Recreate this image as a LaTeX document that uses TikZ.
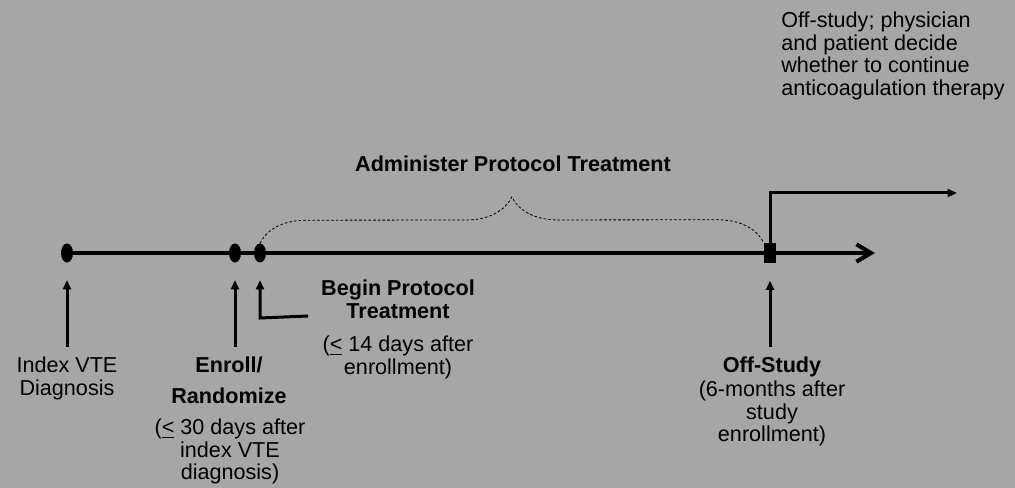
\documentclass[tikz,border=0pt]{standalone}
\usepackage{fontspec}
\setmainfont{Liberation Sans}
\usepackage{tikz}
\usetikzlibrary{arrows.meta,shapes.geometric,decorations.pathreplacing}
\definecolor{slidegray}{RGB}{166,166,166}

\newcommand{\labelfont}{\fontsize{16.2}{16.8}\selectfont}

\begin{document}
\begin{tikzpicture}[x=0.75pt,y=-0.75pt,
  every node/.style={inner sep=0pt,font=\labelfont},
  event/.style={ellipse,fill=black,minimum width=9pt,minimum height=14.25pt},
  stopbox/.style={rectangle,fill=black,minimum width=9pt,minimum height=15pt},
  timeline/.style={line width=3pt,-{Straight Barb[length=11pt,width=13pt]}},
  uparrow/.style={line width=2.25pt,-{Triangle[length=7pt,width=6pt]},shorten >=13pt},
  steparrow/.style={line width=2.25pt,-{Triangle[length=7pt,width=6pt]}},
  bracket/.style={dashed,dash pattern=on 2pt off 1.5pt,line width=0.6pt,
    decorate,decoration={brace,amplitude=34.5pt}},
  note/.style={align=center,anchor=north},
  title/.style={note,font=\labelfont\bfseries}]
  \fill[slidegray] (0,0) rectangle (1015,488);

  % events on the time line
  \node[event] (diag) at (67,253) {};
  \node[event] (enroll) at (235,253) {};
  \node[event] (begin) at (260,253) {};
  \node[stopbox] (offstudy) at (770,253) {};
  \coordinate (tlend) at (875,253);
  \coordinate (contend) at (957,193);
  \draw[timeline] (diag.center) -- (tlend);
  \draw[steparrow] (offstudy.north) |- (contend);
  \draw[bracket] (begin.north) -- (offstudy.north west);

  % labels
  \node[title] (admlbl) at (513,156) {Administer Protocol Treatment};
  \node[note] (diagtxt) at (67,357) {Index VTE\\Diagnosis};
  \node[title] (enrolltitle) at (229,357) {Enroll/\\[6pt]Randomize};
  \node[note] (enrolltxt) at (230,419) {(\underline{<} 30 days after\\index VTE\\diagnosis)};
  \node[title] (begintitle) at (398,280) {Begin Protocol\\Treatment};
  \node[note] (begintxt) at (398,336) {(\underline{<} 14 days after\\enrollment)};
  \node[title] (offtitle) at (772,357) {Off-Study};
  \node[note] (offtxt) at (772,381) {(6-months after\\study\\enrollment)};
  \node[align=left,anchor=north west] (decision) at (781,12)
    {Off-study; physician\\and patient decide\\whether to continue\\anticoagulation therapy};

  % pointers up to the events
  \coordinate (diagfoot) at (67,347);
  \coordinate (enrollfoot) at (235,347);
  \coordinate (beginfoot) at (308,316);
  \coordinate (offfoot) at (770,347);
  \draw[uparrow] (diagfoot) -- (diag.south);
  \draw[uparrow] (enrollfoot) -- (enroll.south);
  \draw[uparrow] (beginfoot) -- ++(-48,2) -- (begin.south);
  \draw[uparrow] (offfoot) -- (offstudy.south);
\end{tikzpicture}
\end{document}
